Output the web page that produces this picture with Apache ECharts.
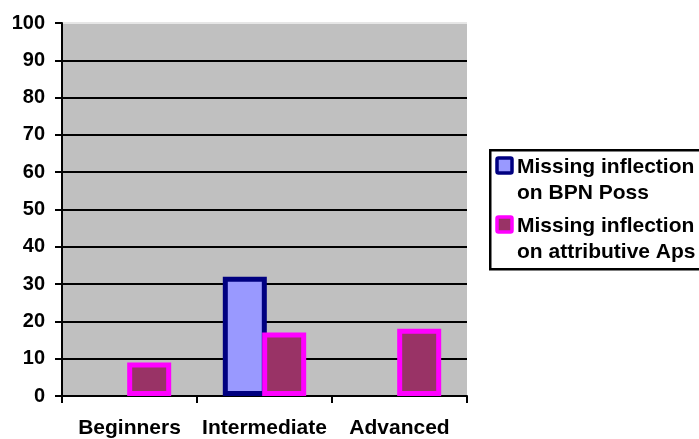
<!DOCTYPE html>
<html>
<head>
<meta charset="utf-8">
<script src="https://cdn.jsdelivr.net/npm/echarts@6/dist/echarts.min.js"></script>
<style>
  html, body { margin: 0; padding: 0; background: #fff; }
  #chart { width: 699px; height: 439px; }
</style>
</head>
<body>
<div id="chart"></div>
<script>
// Learner groups and error counts per group
const categories = ['Beginners', 'Intermediate', 'Advanced'];
const seriesNames = ['Missing inflection\non BPN Poss', 'Missing inflection\non attributive Aps'];
const bpnPoss = ['-', 32, '-'];
const attributiveAps = [9, 17, 18];
const yTicks = { min: 0, max: 100, step: 10 };

const FONT = "'Liberation Sans', Arial, sans-serif";
const styles = [
  { color: '#9999FF', borderColor: '#000080' },
  { color: '#993366', borderColor: '#FF00FF' }
];

const chart = echarts.init(document.getElementById('chart'), null, { renderer: 'canvas' });

// Boxed legend on the right: icon aligned with the first line of each entry
const legendLeft = 489, legendTop = 149;
const legendGraphics = [{
  type: 'rect', left: legendLeft, top: legendTop, z: 100,
  shape: { width: 240, height: 119 },
  style: { fill: '#fff', stroke: '#000', lineWidth: 2.5 }
}];
const entryTops = [154, 213];
seriesNames.forEach((name, i) => {
  legendGraphics.push({
    type: 'rect', z: 101,
    shape: { x: 497, y: entryTops[i] + 4, width: 15, height: 15, r: 1.5 },
    style: { fill: styles[i].color, stroke: styles[i].borderColor, lineWidth: 3.5 }
  });
  legendGraphics.push({
    type: 'text', z: 101, x: 517, y: entryTops[i],
    style: {
      text: name, fill: '#000',
      font: "bold 21px 'Liberation Sans', Arial, sans-serif",
      lineHeight: 26, verticalAlign: 'top', align: 'left'
    }
  });
});

chart.setOption({
  animation: false,
  backgroundColor: '#ffffff',
  grid: {
    left: 62, top: 23, right: 232, bottom: 42,
    show: true, backgroundColor: '#C0C0C0', borderWidth: 0
  },
  xAxis: {
    type: 'category',
    data: categories,
    axisLine: { lineStyle: { color: '#000', width: 2 } },
    axisTick: { show: true, length: 7, lineStyle: { color: '#000', width: 2 } },
    axisLabel: { interval: 0, color: '#000', fontFamily: FONT, fontWeight: 'bold', fontSize: 21, margin: 22 }
  },
  yAxis: {
    type: 'value',
    min: yTicks.min, max: yTicks.max, interval: yTicks.step,
    axisLine: { show: true, lineStyle: { color: '#000', width: 2 } },
    axisTick: { show: true, length: 7, lineStyle: { color: '#000', width: 2 } },
    axisLabel: { color: '#000', fontFamily: FONT, fontWeight: 'bold', fontSize: 20, margin: 17 },
    splitLine: {
      show: true,
      lineStyle: {
        width: 2,
        color: ['#000', '#000', '#000', '#000', '#000', '#000', '#000', '#000', '#000', '#000', '#e6e6e6']
      }
    }
  },
  graphic: legendGraphics,
  series: [
    {
      name: seriesNames[0], type: 'bar', data: bpnPoss,
      barWidth: 44, barGap: '-10.5%',
      itemStyle: { color: styles[0].color, borderColor: styles[0].borderColor, borderWidth: 5 }
    },
    {
      name: seriesNames[1], type: 'bar', data: attributiveAps,
      barWidth: 44, barGap: '-10.5%',
      itemStyle: { color: styles[1].color, borderColor: styles[1].borderColor, borderWidth: 5 }
    }
  ]
});
</script>
</body>
</html>
